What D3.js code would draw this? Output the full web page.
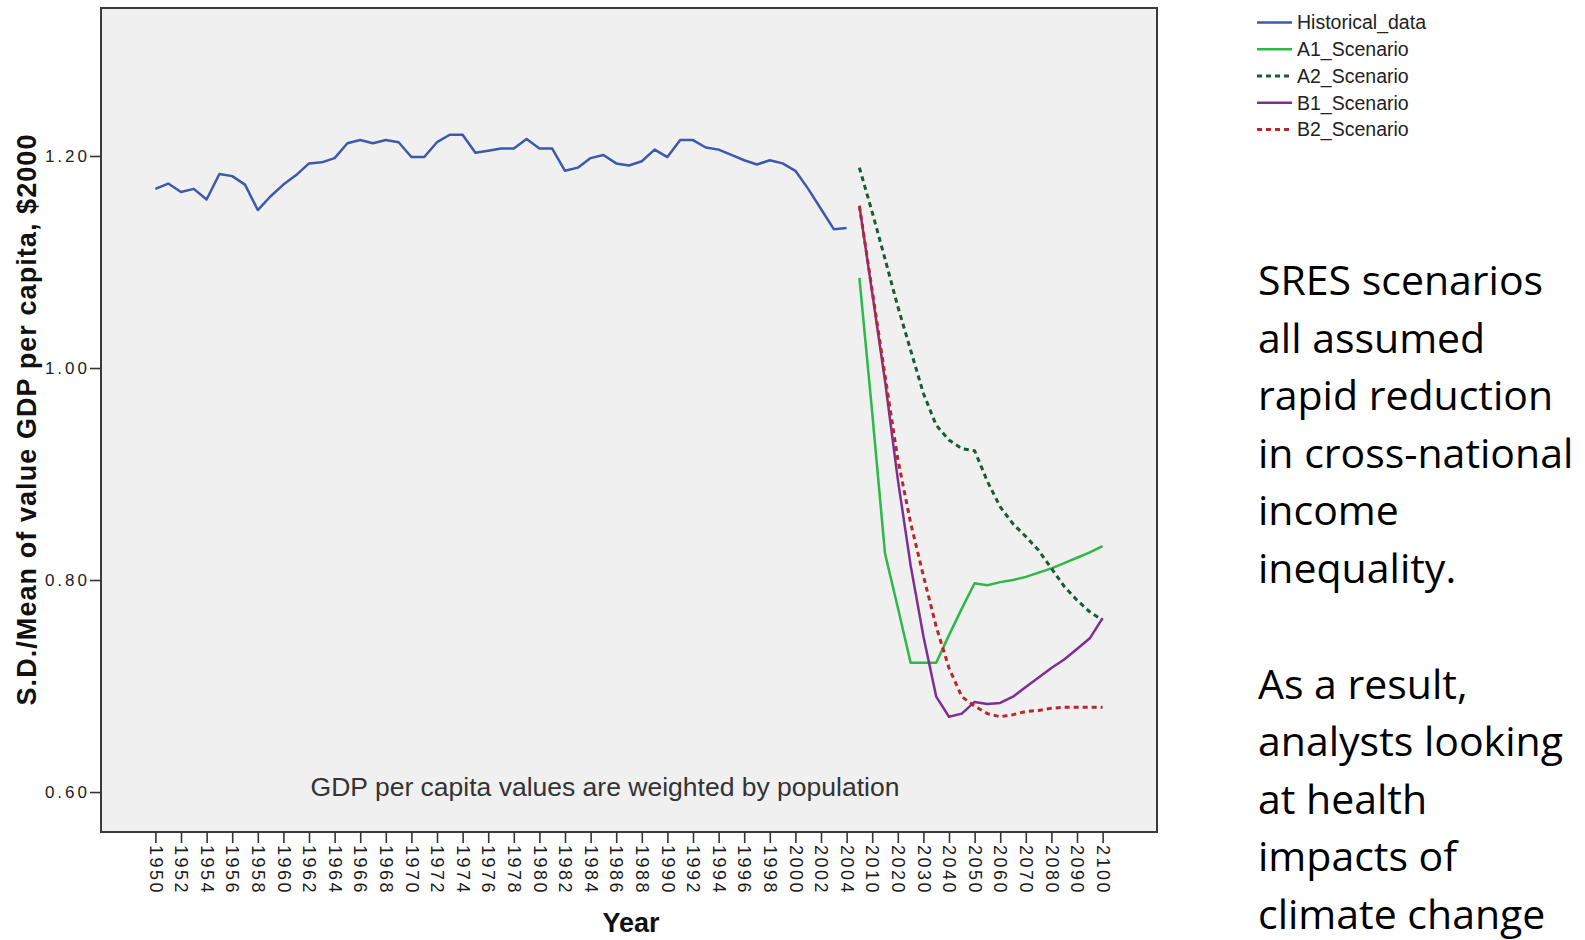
<!DOCTYPE html>
<html>
<head>
<meta charset="utf-8">
<script src="https://cdnjs.cloudflare.com/ajax/libs/d3/7.8.5/d3.min.js"></script>
<style>
    body { margin: 0; background: #ffffff; }
</style>
</head>
<body>
<div id="chart"></div>
<script>

//Data
var histYears = ["1950", "1951", "1952", "1953", "1954", "1955", "1956", "1957", "1958", "1959",
                 "1960", "1961", "1962", "1963", "1964", "1965", "1966", "1967", "1968", "1969",
                 "1970", "1971", "1972", "1973", "1974", "1975", "1976", "1977", "1978", "1979",
                 "1980", "1981", "1982", "1983", "1984", "1985", "1986", "1987", "1988", "1989",
                 "1990", "1991", "1992", "1993", "1994", "1995", "1996", "1997", "1998", "1999",
                 "2000", "2001", "2002", "2003", "2004"];
var histValues = [1.169, 1.174, 1.166, 1.169, 1.159, 1.183, 1.181, 1.173, 1.149, 1.162,
                  1.173, 1.182, 1.193, 1.194, 1.198, 1.212, 1.215, 1.212, 1.215, 1.213,
                  1.199, 1.199, 1.213, 1.220, 1.220, 1.203, 1.205, 1.207, 1.207, 1.216,
                  1.207, 1.207, 1.186, 1.189, 1.198, 1.201, 1.193, 1.191, 1.195, 1.206,
                  1.199, 1.215, 1.215, 1.208, 1.206, 1.201, 1.196, 1.192, 1.196, 1.193,
                  1.186, 1.169, 1.150, 1.131, 1.132];

var scenYears = ["2005", "2010", "2015", "2020", "2025", "2030", "2035", "2040", "2045", "2050",
                 "2055", "2060", "2065", "2070", "2075", "2080", "2085", "2090", "2095", "2100"];
var a1Values = [1.085, 0.958, 0.825, 0.774, 0.722, 0.722, 0.722, 0.748, 0.773, 0.797,
                0.795, 0.798, 0.800, 0.803, 0.807, 0.811, 0.816, 0.821, 0.826, 0.832];
var a2Values = [1.189, 1.147, 1.103, 1.058, 1.017, 0.976, 0.946, 0.932, 0.924, 0.922,
                0.893, 0.869, 0.853, 0.841, 0.828, 0.811, 0.794, 0.781, 0.770, 0.762];
var b1Values = [1.153, 1.071, 0.988, 0.895, 0.814, 0.747, 0.690, 0.671, 0.674, 0.685,
                0.683, 0.684, 0.690, 0.699, 0.708, 0.717, 0.725, 0.735, 0.745, 0.764];
var b2Values = [1.153, 1.073, 0.993, 0.914, 0.854, 0.804, 0.756, 0.717, 0.690, 0.681,
                0.674, 0.671, 0.673, 0.676, 0.677, 0.679, 0.680, 0.680, 0.680, 0.680];

var seriesNames = ["Historical_data", "A1_Scenario", "A2_Scenario", "B1_Scenario", "B2_Scenario"];

var xTickLabels = ["1950", "1952", "1954", "1956", "1958", "1960", "1962", "1964", "1966", "1968",
                   "1970", "1972", "1974", "1976", "1978", "1980", "1982", "1984", "1986", "1988",
                   "1990", "1992", "1994", "1996", "1998", "2000", "2002", "2004",
                   "2010", "2020", "2030", "2040", "2050", "2060", "2070", "2080", "2090", "2100"];
var yTickValues = [0.60, 0.80, 1.00, 1.20];

var noteTop = ["SRES scenarios", "all assumed", "rapid reduction", "in cross-national", "income", "inequality."];
var noteBottom = ["As a result,", "analysts looking", "at health", "impacts of", "climate change"];

//Styles
var w = 1585;
var h = 940;
var plot = {left: 101, top: 8, right: 1157, bottom: 832};
var lineColors = ["#3e58ac", "#2eb848", "#1a5a34", "#7e2f92", "#b8282a"];
var lineDash = [null, null, "5,4", null, "5,4"];
var font = "'Liberation Sans', Arial, sans-serif";

var categories = histYears.concat(scenYears);

var series = [
    histYears.map((d, i) => ({year: d, value: histValues[i]})),
    scenYears.map((d, i) => ({year: d, value: a1Values[i]})),
    scenYears.map((d, i) => ({year: d, value: a2Values[i]})),
    scenYears.map((d, i) => ({year: d, value: b1Values[i]})),
    scenYears.map((d, i) => ({year: d, value: b2Values[i]}))
];

//Scales
var x = d3.scalePoint()
    .domain(categories)
    .range([plot.left, plot.right])
    .padding(4.25);

var y = d3.scaleLinear()
    .domain([0.5623, 1.3396])
    .range([plot.bottom, plot.top]);

var svg = d3.select("#chart")
    .append("svg")
    .attr("width", w)
    .attr("height", h)
    .style("font-family", font);

//Plot background and frame
svg.append("rect")
    .attr("x", plot.left)
    .attr("y", plot.top)
    .attr("width", plot.right - plot.left)
    .attr("height", plot.bottom - plot.top)
    .attr("fill", "#f0f0f0")
    .attr("stroke", "#3a3a3a")
    .attr("stroke-width", 2);

//X axis
var xAxis = svg.append("g")
    .attr("transform", "translate(0," + plot.bottom + ")")
    .call(d3.axisBottom(x).tickValues(xTickLabels).tickSize(11).tickSizeOuter(0));

xAxis.select(".domain").remove();
xAxis.selectAll("line")
    .attr("stroke", "#333")
    .attr("stroke-width", 1.6);
xAxis.selectAll("text")
    .attr("transform", "rotate(90)")
    .attr("text-anchor", "start")
    .attr("x", 13)
    .attr("y", 0)
    .attr("dy", "0.35em")
    .style("font-family", font)
    .style("font-size", "18px")
    .style("letter-spacing", "2.5px")
    .attr("fill", "#1a1a1a");

//Y axis
var yAxis = svg.append("g")
    .attr("transform", "translate(" + plot.left + ",0)")
    .call(d3.axisLeft(y).tickValues(yTickValues).tickFormat(d3.format(".2f")).tickSize(11).tickSizeOuter(0));

yAxis.select(".domain").remove();
yAxis.selectAll("line")
    .attr("stroke", "#333")
    .attr("stroke-width", 1.6);
yAxis.selectAll("text")
    .attr("x", -11)
    .style("font-family", font)
    .style("font-size", "17px")
    .style("letter-spacing", "3px")
    .attr("fill", "#222");

//Axis titles
svg.append("text")
    .attr("transform", "translate(36,420) rotate(-90)")
    .attr("text-anchor", "middle")
    .attr("textLength", 571)
    .attr("lengthAdjust", "spacing")
    .style("font-size", "27px")
    .style("font-weight", "bold")
    .attr("fill", "#111")
    .text("S.D./Mean of value GDP per capita, $2000");

svg.append("text")
    .attr("x", 631)
    .attr("y", 932)
    .attr("text-anchor", "middle")
    .style("font-size", "27px")
    .style("font-weight", "bold")
    .attr("fill", "#111")
    .text("Year");

//Annotation inside the plot
svg.append("text")
    .attr("x", 605)
    .attr("y", 796)
    .attr("text-anchor", "middle")
    .style("font-size", "26.5px")
    .attr("fill", "#333")
    .text("GDP per capita values are weighted by population");

//Lines
var line = d3.line()
    .x(d => x(d.year))
    .y(d => y(d.value));

svg.append("g")
    .selectAll("path")
    .data(series)
    .enter()
    .append("path")
    .attr("d", line)
    .attr("fill", "none")
    .attr("stroke", (d, i) => lineColors[i])
    .attr("stroke-width", (d, i) => lineDash[i] ? 3 : 2.5)
    .attr("stroke-dasharray", (d, i) => lineDash[i])
    .attr("stroke-linejoin", "round");

//Legend
var lgLeft = 1257;
var lgTop = 22.5;
var lgSpacing = 26.75;

var legend = svg.append("g")
    .attr("class", "legend");

legend.selectAll("line")
    .data(seriesNames)
    .enter()
    .append("line")
    .attr("x1", lgLeft)
    .attr("x2", lgLeft + 35)
    .attr("y1", (d, i) => lgTop + i * lgSpacing)
    .attr("y2", (d, i) => lgTop + i * lgSpacing)
    .attr("stroke", (d, i) => lineColors[i])
    .attr("stroke-width", (d, i) => lineDash[i] ? 3 : 2.5)
    .attr("stroke-dasharray", (d, i) => lineDash[i]);

legend.selectAll("text")
    .data(seriesNames)
    .enter()
    .append("text")
    .attr("x", lgLeft + 40)
    .attr("y", (d, i) => lgTop + i * lgSpacing)
    .attr("dy", "0.35em")
    .style("font-size", "19.5px")
    .attr("fill", "#222")
    .text(d => d);

//Slide text on the right
var noteFont = "'Open Sans', 'Noto Sans', sans-serif";

svg.append("g")
    .selectAll("text")
    .data(noteTop)
    .enter()
    .append("text")
    .attr("x", 1258)
    .attr("y", (d, i) => 295 + i * 57.6)
    .style("font-family", noteFont)
    .style("font-size", "41px")
    .attr("fill", "#000")
    .text(d => d);

svg.append("g")
    .selectAll("text")
    .data(noteBottom)
    .enter()
    .append("text")
    .attr("x", 1258)
    .attr("y", (d, i) => 698.5 + i * 57.6)
    .style("font-family", noteFont)
    .style("font-size", "41px")
    .attr("fill", "#000")
    .text(d => d);

</script>
</body>
</html>
